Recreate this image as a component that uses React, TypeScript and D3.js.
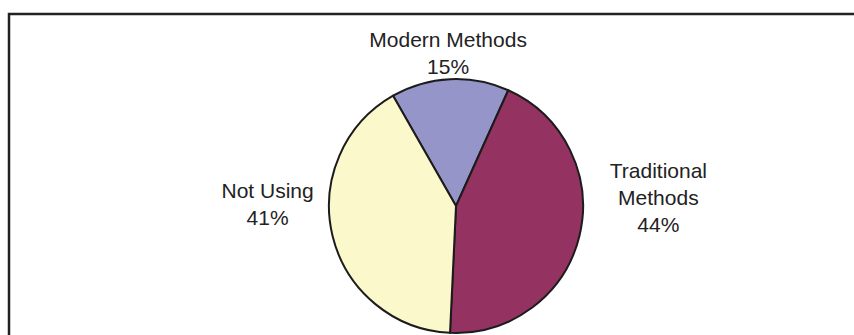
import React from "react";
import * as d3 from "d3";

const categories = ["Modern Methods", "Traditional Methods", "Not Using"];
const values = [15, 44, 41];
const labelLines = [["Modern Methods"], ["Traditional", "Methods"], ["Not Using"]];
const colors = ["#9595c9", "#943262", "#fbf8cc"];

const width = 854;
const height = 335;
const cx = 456;
const cy = 206;
const radius = 127;
const lineHeight = 27;
// nudges that put each label block next to its slice like the original
const labelNudge = [
  { dx: 0, dy: 8 },
  { dx: 40, dy: -67 },
  { dx: -26, dy: -47 },
];

function App() {
  const pie = d3
    .pie<number>()
    .sort(null)
    .startAngle((-29.7 * Math.PI) / 180)
    .endAngle((-29.7 * Math.PI) / 180 + 2 * Math.PI);
  const arcs = pie(values);
  const arc = d3.arc<d3.PieArcDatum<number>>().innerRadius(0).outerRadius(radius);
  const labelArc = d3
    .arc<d3.PieArcDatum<number>>()
    .innerRadius(radius + 40)
    .outerRadius(radius + 40);
  const total = d3.sum(values);

  return (
    <svg
      width={width}
      height={height}
      style={{ position: "absolute", left: 0, top: 0, display: "block" }}
      fontFamily="'Liberation Sans', Arial, sans-serif"
    >
      <rect width={width} height={height} fill="#ffffff" />
      <path d={`M9,${height} V14 H${width}`} fill="none" stroke="#222" strokeWidth={2.5} />
      <g transform={`translate(${cx},${cy})`}>
        {arcs.map((a, i) => (
          <path
            key={categories[i]}
            d={arc(a) || ""}
            fill={colors[i]}
            stroke="#1c1c1c"
            strokeWidth={2}
            strokeLinejoin="round"
          />
        ))}
      </g>
      {arcs.map((a, i) => {
        const [lx, ly] = labelArc.centroid(a);
        const lines = [...labelLines[i], `${Math.round((values[i] / total) * 100)}%`];
        const x = cx + lx + labelNudge[i].dx;
        const y0 = cy + ly + labelNudge[i].dy;
        return (
          <text key={categories[i]} x={x} y={y0} textAnchor="middle" fontSize={21} fill="#222">
            {lines.map((t, j) => (
              <tspan key={j} x={x} y={y0 + j * lineHeight}>
                {t}
              </tspan>
            ))}
          </text>
        );
      })}
    </svg>
  );
}

export default App;
